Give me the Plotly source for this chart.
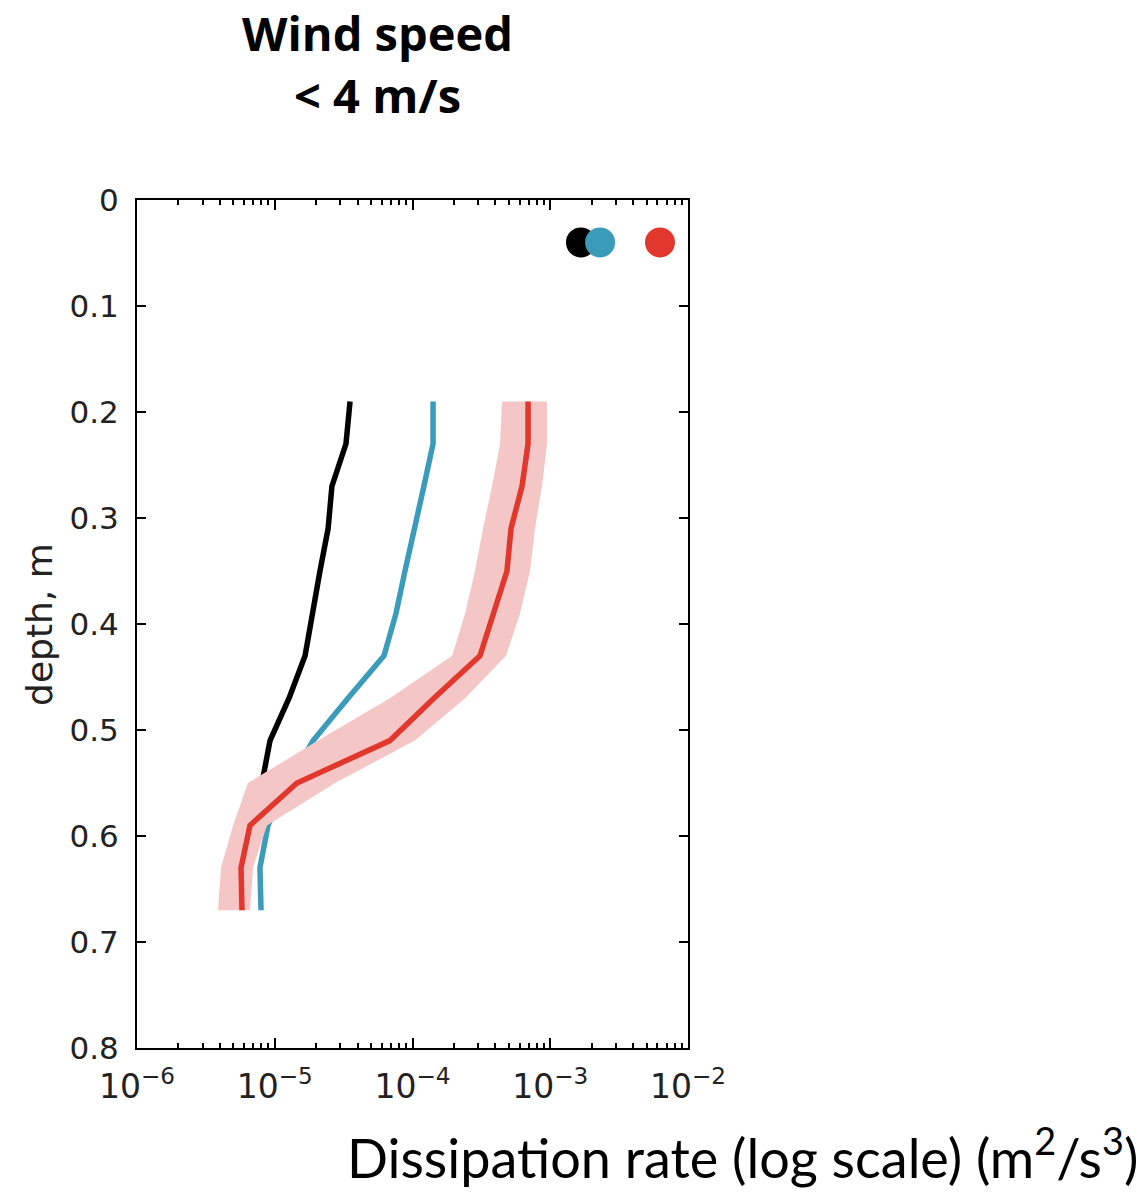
import plotly.graph_objects as go

# Depth levels of the profiles (m)
depth = [0.19, 0.23, 0.27, 0.31, 0.35, 0.39, 0.43, 0.47, 0.51, 0.55, 0.59, 0.63, 0.67]

# Dissipation-rate profiles (m^2/s^3)
eps_black = [3.52e-5, 3.29e-5, 2.60e-5, 2.44e-5, 2.13e-5, 1.90e-5, 1.66e-5,
             1.27e-5, 9.24e-6, 8.08e-6]
eps_blue = [1.41e-4, 1.41e-4, 1.21e-4, 1.025e-4, 8.82e-5, 7.59e-5, 6.21e-5,
            3.40e-5, 1.90e-5, 1.25e-5, 8.93e-6, 7.81e-6, 7.95e-6]
eps_red = [6.90e-4, 6.90e-4, 6.24e-4, 5.19e-4, 4.85e-4, 3.91e-4, 3.09e-4,
           1.43e-4, 6.86e-5, 1.45e-5, 6.61e-6, 5.69e-6, 5.78e-6]

# Spread around the red profile
eps_red_low = [4.46e-4, 4.32e-4, 3.78e-4, 3.25e-4, 2.84e-4, 2.41e-4, 1.94e-4,
               6.86e-5, 2.06e-5, 6.39e-6, 4.98e-6, 4.07e-6, 3.87e-6]
eps_red_high = [9.47e-4, 9.47e-4, 8.71e-4, 7.75e-4, 7.13e-4, 6.03e-4, 4.77e-4,
                2.41e-4, 1.04e-4, 2.74e-5, 8.78e-6, 6.95e-6, 6.61e-6]

# Near-surface estimates
surf_depth = 0.04
surf_black = 1.67e-3
surf_blue = 2.30e-3
surf_red = 6.26e-3

# Axis ticks
x_major = [1e-6, 1e-5, 1e-4, 1e-3, 1e-2]
x_major_text = ["10<sup>−6</sup>", "10<sup>−5</sup>", "10<sup>−4</sup>",
                "10<sup>−3</sup>", "10<sup>−2</sup>"]
x_minor = [k * 10.0 ** e for e in range(-6, -2) for k in range(2, 10)]
y_ticks = [0, 0.1, 0.2, 0.3, 0.4, 0.5, 0.6, 0.7, 0.8]
y_tick_text = ["0", "0.1", "0.2", "0.3", "0.4", "0.5", "0.6", "0.7", "0.8"]

BLACK = "#000000"
BLUE = "#3b9bbb"
RED = "#e2372c"
PINK = "#f5c6c6"

fig = go.Figure()

fig.add_trace(go.Scatter(x=eps_black, y=depth[:len(eps_black)], mode="lines",
                         line=dict(color=BLACK, width=5.5), hoverinfo="skip"))
fig.add_trace(go.Scatter(x=eps_blue, y=depth, mode="lines",
                         line=dict(color=BLUE, width=5.5), hoverinfo="skip"))
fig.add_trace(go.Scatter(x=eps_red_low + eps_red_high[::-1],
                         y=depth + depth[::-1], mode="lines", fill="toself",
                         fillcolor=PINK, line=dict(width=0, color=PINK),
                         hoverinfo="skip"))
fig.add_trace(go.Scatter(x=eps_red, y=depth, mode="lines",
                         line=dict(color=RED, width=5.5), hoverinfo="skip"))

for xv, col in [(surf_black, BLACK), (surf_blue, BLUE), (surf_red, RED)]:
    fig.add_trace(go.Scatter(x=[xv], y=[surf_depth], mode="markers",
                             marker=dict(color=col, size=30, line=dict(width=0)),
                             hoverinfo="skip"))

x_tick_font = dict(family="DejaVu Sans", size=33, color="#222222")
y_tick_font = dict(family="DejaVu Sans", size=31, color="#222222")

fig.update_xaxes(type="log", range=[-6, -2], tickvals=x_major, ticktext=x_major_text,
                 ticks="inside", ticklen=10, tickwidth=1.5, tickcolor="black",
                 minor=dict(tickvals=x_minor, ticks="inside", ticklen=5,
                            tickwidth=1.5, tickcolor="black"),
                 showline=True, linecolor="black", linewidth=2, mirror="ticks",
                 showgrid=False, zeroline=False, tickfont=x_tick_font,
                 ticklabelstandoff=8)
fig.update_yaxes(range=[0.8, 0], tickvals=y_ticks, ticktext=y_tick_text,
                 ticks="inside", ticklen=9, tickwidth=1.5, tickcolor="black",
                 showline=True, linecolor="black", linewidth=2, mirror="ticks",
                 showgrid=False, zeroline=False, tickfont=y_tick_font,
                 ticklabelstandoff=10)

fig.add_annotation(text="<b>Wind speed</b>", x=0.437, y=1.197, xref="paper", yref="paper",
                   showarrow=False, xanchor="center", yanchor="middle",
                   font=dict(family="Open Sans", size=47, color="black"))
fig.add_annotation(text="<b>< 4 m/s</b>", x=0.437, y=1.124, xref="paper", yref="paper",
                   showarrow=False, xanchor="center", yanchor="middle",
                   font=dict(family="Open Sans", size=47, color="black"))
fig.add_annotation(text="depth, m", x=-0.178, y=0.5, xref="paper", yref="paper",
                   showarrow=False, textangle=-90, xanchor="center", yanchor="middle",
                   font=dict(family="DejaVu Sans", size=36, color="#222222"))
fig.add_annotation(text="Dissipation rate (log scale) (m<sup>2</sup>/s<sup>3</sup>)",
                   x=1.82, y=-0.125, xref="paper", yref="paper",
                   showarrow=False, xanchor="right", yanchor="middle",
                   font=dict(family="Lato", size=54, color="black"))

fig.update_layout(width=1147, height=1192, showlegend=False,
                  margin=dict(l=137, r=459, t=200, b=144),
                  paper_bgcolor="white", plot_bgcolor="white")

fig.write_html("out.html")
